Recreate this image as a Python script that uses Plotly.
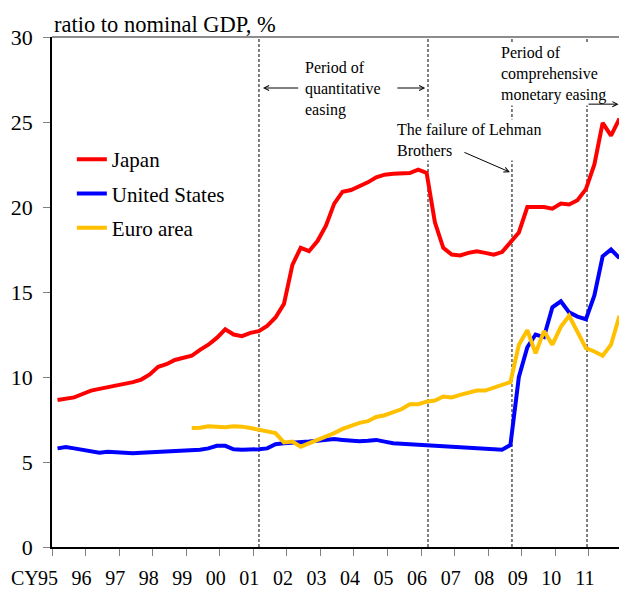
import pandas as pd
import plotly.graph_objects as go

# quarterly data, ratio to nominal GDP (%)
quarters = pd.period_range("1995Q1", "2011Q4", freq="Q")
euro_quarters = pd.period_range("1999Q1", "2011Q4", freq="Q")

japan = [8.65, 8.7, 8.8, 9.0, 9.2, 9.3, 9.4, 9.5, 9.55, 9.7,
         9.85, 10.15, 10.6, 10.75, 11.0, 11.1, 11.25, 11.6, 11.9, 12.3,
         12.8, 12.5, 12.4, 12.6, 12.7, 13.0, 13.5, 14.3, 16.6, 17.6,
         17.4, 18.0, 18.9, 20.2, 20.9, 21.0, 21.2, 21.45, 21.75, 21.9,
         21.95, 22.0, 22.0, 22.2, 22.0, 19.1, 17.6, 17.2, 17.15, 17.3,
         17.4, 17.3, 17.2, 17.35, 17.9, 18.5, 20.0, 20.0, 20.0, 19.9,
         20.2, 20.15, 20.4, 21.05, 22.5, 24.95, 24.2, 25.2]
us = [5.8, 5.88, 5.8, 5.72, 5.65, 5.55, 5.6, 5.57, 5.55, 5.52,
      5.55, 5.58, 5.58, 5.6, 5.62, 5.65, 5.68, 5.72, 5.8, 5.95,
      5.95, 5.75, 5.72, 5.72, 5.75, 5.8, 6.05, 6.1, 6.12, 6.18,
      6.2, 6.25, 6.3, 6.35, 6.3, 6.25, 6.22, 6.25, 6.3, 6.2,
      6.1, 6.08, 6.05, 6.03, 6.0, 5.98, 5.93, 5.9, 5.85, 5.82,
      5.8, 5.77, 5.72, 5.72, 6.0, 10.0, 11.75, 12.5, 12.35, 14.1,
      14.45, 13.8, 13.55, 13.4, 14.8, 17.1, 17.5, 17.0]
euro = [7.0, 7.02, 7.1, 7.08, 7.05, 7.1, 7.08, 7.0, 6.9, 6.8,
        6.7, 6.15, 6.2, 5.9, 6.1, 6.3, 6.45, 6.7, 6.95, 7.15,
        7.3, 7.4, 7.65, 7.75, 7.9, 8.1, 8.4, 8.4, 8.55, 8.62,
        8.85, 8.8, 8.95, 9.05, 9.2, 9.2, 9.35, 9.5, 9.7, 11.9,
        12.75, 11.4, 12.7, 11.9, 12.95, 13.6, 12.65, 11.7, 11.5, 11.25,
        11.9, 13.6]

years = list(range(1995, 2012))
year_labels = ["95", "96", "97", "98", "99", "00", "01", "02",
               "03", "04", "05", "06", "07", "08", "09", "10", "11"]

# event dates (dashed lines)
events = ["2001-03-03", "2006-03-17", "2008-09-16", "2010-12-12"]

FONT = "Times New Roman, Liberation Serif, serif"

def mid_quarter(p):
    return p.to_timestamp(how="start") + pd.Timedelta(days=60)

x_all = mid_quarter(quarters)
x_euro = mid_quarter(euro_quarters)

fig = go.Figure()
fig.add_trace(go.Scatter(x=x_all, y=japan, mode="lines", name="Japan",
                         line=dict(color="#FF0000", width=4), legendgroup="a"))
fig.add_trace(go.Scatter(x=x_all, y=us, mode="lines", name="United States",
                         line=dict(color="#0000FF", width=4), legendgroup="b"))
fig.add_trace(go.Scatter(x=x_euro, y=euro, mode="lines", name="Euro area",
                         line=dict(color="#FFC000", width=4), legendgroup="c"))

for d in events:
    fig.add_shape(type="line", xref="x", yref="paper", x0=d, x1=d, y0=0, y1=1,
                  line=dict(color="black", width=1, dash="3px,2px"), layer="below")

# top border
fig.add_shape(type="line", xref="paper", yref="paper", x0=0, x1=1, y0=1, y1=1,
              line=dict(color="#8c8c8c", width=2))

def note(text, x, y):
    fig.add_annotation(text=text, x=x, y=y, xref="x", yref="y", xanchor="left",
                       yanchor="middle", align="left", showarrow=False,
                       bgcolor="white", font=dict(family=FONT, size=16, color="black"))

def arrow(x0, y0, x1, y1):
    fig.add_annotation(text="", x=x1, y=y1, ax=x0, ay=y0, xref="x", yref="y",
                       axref="x", ayref="y", showarrow=True, arrowhead=5,
                       arrowsize=1, arrowwidth=1, arrowcolor="black")

note("Period of<br>quantitative<br>easing", "2002-06-20", 26.92)
note("The failure of Lehman<br>Brothers", "2005-03-20", 23.95)
note("Period of<br>comprehensive<br>monetary easing", "2008-05-01", 27.85)

arrow("2002-05-20", 27.0, "2001-04-15", 27.0)
arrow("2005-04-01", 27.0, "2006-02-15", 27.0)
arrow("2007-04-01", 23.25, "2008-08-25", 22.05)
arrow("2010-12-12", 26.05, "2011-11-20", 26.05)

fig.add_annotation(text="ratio to nominal GDP, %", xref="paper", yref="paper",
                   x=0, y=1, xanchor="left", yanchor="bottom", yshift=-2,
                   showarrow=False, font=dict(family=FONT, size=22.5, color="black"))

# "CY" prefix in front of the first year label
fig.add_annotation(text="CY", xref="paper", yref="paper", x=0, y=0,
                   xanchor="right", yanchor="middle", xshift=-11, yshift=-31,
                   showarrow=False, font=dict(family=FONT, size=20, color="black"))

fig.update_layout(
    width=619, height=590,
    margin=dict(l=52, r=0, t=37, b=43, autoexpand=False),
    paper_bgcolor="white", plot_bgcolor="white",
    font=dict(family=FONT, size=21, color="black"),
    showlegend=True,
    legend=dict(x=0.035, y=0.80, xanchor="left", yanchor="top",
                bgcolor="rgba(0,0,0,0)", font=dict(family=FONT, size=21),
                tracegroupgap=4, itemwidth=30),
)
fig.update_xaxes(type="date", range=["1995-01-01", "2011-11-25"],
                 tickvals=[f"{y}-01-01" for y in years], ticktext=year_labels,
                 tickangle=0, automargin=False, ticklabelstandoff=5,
                 ticks="outside", ticklen=7, tickcolor="#808080",
                 showline=True, linecolor="black", linewidth=1.5,
                 showgrid=False, zeroline=False, ticklabelshift=-4,
                 tickfont=dict(family=FONT, size=20))
fig.update_yaxes(range=[0, 30], dtick=5, ticks="outside", ticklen=7,
                 automargin=False, ticklabelstandoff=6,
                 tickcolor="#808080", showline=True, linecolor="black",
                 linewidth=1.5, showgrid=False, zeroline=False,
                 tickfont=dict(family=FONT, size=22))

# drop the page's default 8px body margin so the chart fills the window
fig.write_html("out.html", config={"displayModeBar": False},
               post_script="document.body.style.margin='0px';document.body.style.overflow='hidden';")
